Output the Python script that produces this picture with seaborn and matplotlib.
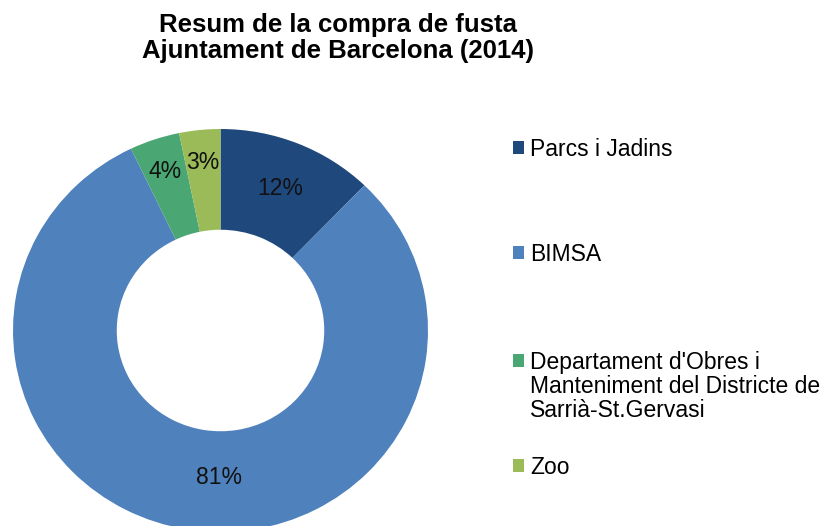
import matplotlib
matplotlib.use("Agg")
import matplotlib.pyplot as plt
import seaborn as sns
from matplotlib.patches import Patch
from matplotlib.legend_handler import HandlerPatch

# data
categories = ["Parcs i Jadins", "BIMSA",
              "Departament d'Obres i\nManteniment del Districte de\nSarrià-St.Gervasi",
              "Zoo"]
shares = [12.2, 80.7, 3.9, 3.2]
colors = ["#1F497D", "#4F81BD", "#4AA673", "#9BBB59"]

sns.set_style("white")
plt.rcParams['font.family'] = ['Liberation Sans', 'DejaVu Sans']
plt.rcParams['text.color'] = 'black'

W, H = 831, 526
fig = plt.figure(figsize=(W / 100, H / 100), dpi=100)

# donut axes (image is slightly wider than tall in the original)
left, right, top, bottom = 13, 428, 129, 532
ax = fig.add_axes([left / W, 1 - bottom / H, (right - left) / W, (bottom - top) / H])

wedges, _, autotexts = ax.pie(shares, colors=colors, startangle=90, counterclock=False,
                              autopct="%.0f%%", pctdistance=0.76,
                              wedgeprops=dict(width=0.5, linewidth=0),
                              textprops=dict(fontsize=16.5, color="#111111"))
ax.set_aspect("auto")
ax.set_xlim(-1, 1)
ax.set_ylim(-1, 1)

# label placement as in the original chart
label_pos = [(0.29, 0.707), (-0.009, -0.732), (-0.267, 0.787), (-0.084, 0.836)]
for t, p in zip(autotexts, label_pos):
    t.set_position(p)

fig.text(338 / W, 1 - 13 / H, "Resum de la compra de fusta\nAjuntament de Barcelona (2014)",
         ha="center", va="top", fontsize=18.5, fontweight="bold", linespacing=1.13)


class TopHandler(HandlerPatch):
    def __init__(self, shift=0, **kw):
        super().__init__(**kw)
        self.shift = shift

    def create_artists(self, legend, orig_handle, xdescent, ydescent, width, height,
                       fontsize, trans):
        return super().create_artists(legend, orig_handle, xdescent, ydescent - self.shift,
                                      width, height, fontsize, trans)


fs = 16.5
leg_tops = [138, 243, 351, 456]
for name, c, ytop in zip(categories, colors, leg_tops):
    h = Patch(facecolor=c, edgecolor="none")
    nlines = name.count("\n")
    leg = fig.legend([h], [name], loc="upper left",
                     bbox_to_anchor=(513 / W, 1 - ytop / H),
                     frameon=False, fontsize=fs, borderpad=0, borderaxespad=0,
                     handlelength=0.5, handleheight=0.5, handletextpad=0.25,
                     handler_map={h: TopHandler(shift=nlines * 0.58 * fs)})
    for t in leg.get_texts():
        t.set_linespacing(1.05)

fig.savefig("out.png", dpi=100)
